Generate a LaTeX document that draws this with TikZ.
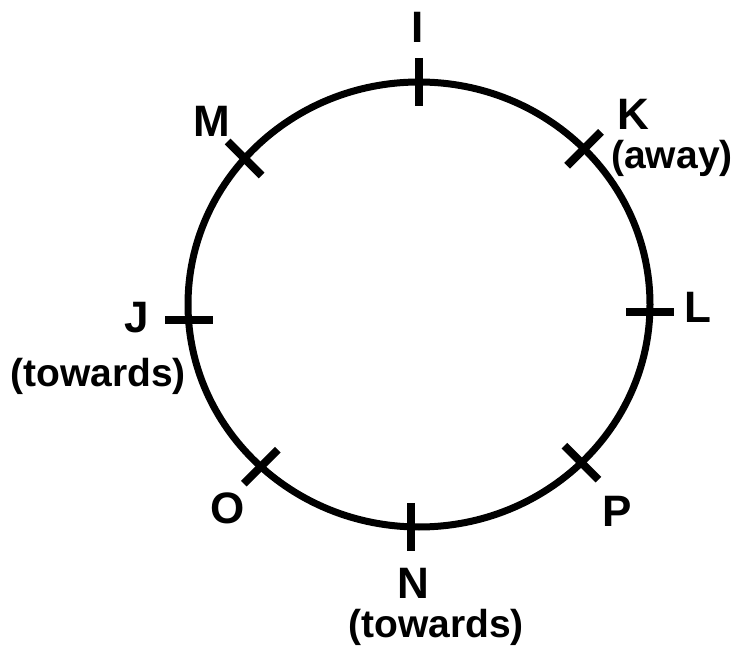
\documentclass[tikz,border=0pt]{standalone}
\usepackage{fontspec}
\setmainfont{Liberation Sans}
\usetikzlibrary{calc}
\begin{document}
\begin{tikzpicture}[x=1pt, y=1pt, line cap=butt,
    ring/.style={line width=7pt},
    tick/.style={line width=8pt},
    letter/.style={inner sep=0pt, font=\fontsize{44}{46}\selectfont\bfseries},
    note/.style={inner sep=0pt, font=\fontsize{39}{41}\selectfont\bfseries}]
  \useasboundingbox (0,0) rectangle (739,646);
  \coordinate (ctr) at (419,341.5);
  \draw[ring] (ctr) ellipse [x radius=231, y radius=222.5];
  % ticks on the ring
  \foreach \a/\d/\n in {90/90/I, 44.4/45/K, 358/0/L, 314.7/-45/P, 268/90/N, 226.8/45/O, 184/0/J, 139/-45/M} {
    \coordinate (\n) at ($(ctr)+(\a:231 and 222.5)$);
    \draw[tick] ($(\n)+(\d:24)$) -- ($(\n)+(\d+180:24)$);
  }
  % labels
  \node[letter] (lI) at (418,619) {I};
  \node[letter] (lK) at (633,532) {K};
  \node[note] (nK) at (672,488) {(away)};
  \node[letter] (lL) at (698,339) {L};
  \node[letter] (lP) at (617,135) {P};
  \node[letter] (lN) at (413,63) {N};
  \node[note] (nN) at (436,19) {(towards)};
  \node[letter] (lO) at (228,138) {O};
  \node[letter] (lJ) at (137,328) {J};
  \node[note] (nJ) at (98,270) {(towards)};
  \node[letter] (lM) at (212,525) {M};
\end{tikzpicture}
\end{document}
